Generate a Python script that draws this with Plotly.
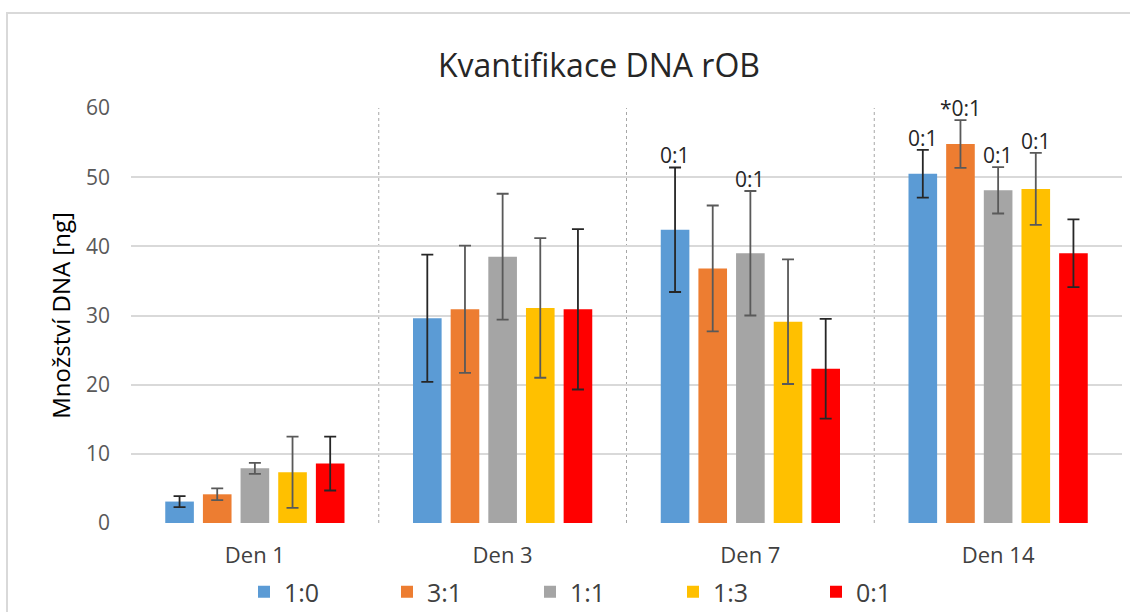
import plotly.graph_objects as go

categories = ["Den 1", "Den 3", "Den 7", "Den 14"]
series_names = ["1:0", "3:1", "1:1", "1:3", "0:1"]
values = {
    "1:0": [3.1, 29.6, 42.4, 50.5],
    "3:1": [4.15, 30.9, 36.8, 54.8],
    "1:1": [7.9, 38.5, 39.0, 48.1],
    "1:3": [7.35, 31.1, 29.1, 48.3],
    "0:1": [8.6, 30.9, 22.3, 39.0],
}
errors = {
    "1:0": [0.8, 9.2, 9.0, 3.45],
    "3:1": [0.85, 9.2, 9.1, 3.45],
    "1:1": [0.8, 9.1, 9.0, 3.35],
    "1:3": [5.15, 10.1, 9.0, 5.2],
    "0:1": [3.9, 11.6, 7.2, 4.9],
}
# significance labels: (series, category) -> text
labels = {
    ("1:0", "Den 7"): "0:1",
    ("1:1", "Den 7"): "0:1",
    ("1:0", "Den 14"): "0:1",
    ("3:1", "Den 14"): "*0:1",
    ("1:1", "Den 14"): "0:1",
    ("1:3", "Den 14"): "0:1",
}
colors = ["#5B9BD5", "#ED7D31", "#A5A5A5", "#FFC000", "#FF0000"]
err_colors = ["#262626", "#595959", "#595959", "#595959", "#262626"]
y_ticks = [0, 10, 20, 30, 40, 50, 60]

FONT = "'Open Sans', sans-serif"
W, H = 1130, 612
ML, MR, MT, MB = 131, 8, 108, 89
BARGAP = 0.24
GROUPGAP = 0.24

fig = go.Figure()
for name, col, ecol in zip(series_names, colors, err_colors):
    fig.add_trace(go.Bar(
        x=categories, y=values[name], name=name,
        marker=dict(color=col, line=dict(width=0)),
        error_y=dict(type="data", array=errors[name], visible=True,
                     color=ecol, thickness=1.8, width=6),
    ))

plot_w = W - ML - MR
plot_h = H - MT - MB
cat_px = plot_w / len(categories)
slot_px = cat_px * (1 - BARGAP) / len(series_names)
annotations = []
for (sname, cat), txt in labels.items():
    i = series_names.index(sname)
    j = categories.index(cat)
    annotations.append(dict(
        x=cat, y=values[sname][j] + errors[sname][j], xref="x", yref="y",
        text=txt, showarrow=False, yanchor="bottom",
        xshift=(i - (len(series_names) - 1) / 2) * slot_px, yshift=-4,
        font=dict(family=FONT, size=21, color="#262626"),
    ))

shapes = []
# dotted separators between categories
for k in range(len(categories) - 1):
    shapes.append(dict(type="line", xref="x", yref="paper",
                       x0=k + 0.5, x1=k + 0.5, y0=0, y1=1,
                       line=dict(color="#A6A6A6", width=1, dash="dot"), layer="below"))
# outer chart border
shapes.append(dict(type="rect", xref="paper", yref="paper",
                   x0=(7 - ML) / plot_w, x1=(W + 20 - ML) / plot_w,
                   y0=(MB - H - 20) / plot_h, y1=(H - 13 - MB) / plot_h,
                   line=dict(color="#D9D9D9", width=2), fillcolor="rgba(0,0,0,0)", layer="below"))

fig.update_layout(
    width=W, height=H, autosize=False,
    margin=dict(l=ML, r=MR, t=MT, b=MB, autoexpand=False),
    paper_bgcolor="white", plot_bgcolor="white",
    barmode="group", bargap=BARGAP, bargroupgap=GROUPGAP,
    title=dict(text="Kvantifikace DNA rOB", x=599 / W, xanchor="center",
               y=1 - 66 / H, yanchor="middle",
               font=dict(family=FONT, size=32, color="#262626")),
    font=dict(family=FONT),
    xaxis=dict(showgrid=False, showline=False, zeroline=False,
               ticks="", ticklabelstandoff=17,
               tickfont=dict(family=FONT, size=22, color="#404040")),
    yaxis=dict(range=[0, 60], tickvals=y_ticks, showgrid=True,
               gridcolor="#D9D9D9", gridwidth=1.5, zeroline=False, showline=False,
               ticks="", ticklabelstandoff=20,
               tickfont=dict(family=FONT, size=21, color="#595959"),
               title=dict(text="Množství DNA [ng]", standoff=8,
                          font=dict(family=FONT, size=24, color="#000000"))),
    legend=dict(orientation="h", x=(244 - ML) / plot_w, xanchor="left",
                y=-(592 - (H - MB)) / plot_h, yanchor="middle",
                entrywidth=98, font=dict(family=FONT, size=25, color="#404040"),
                traceorder="normal"),
    annotations=annotations,
    shapes=shapes,
)

fig.write_html("out.html")
